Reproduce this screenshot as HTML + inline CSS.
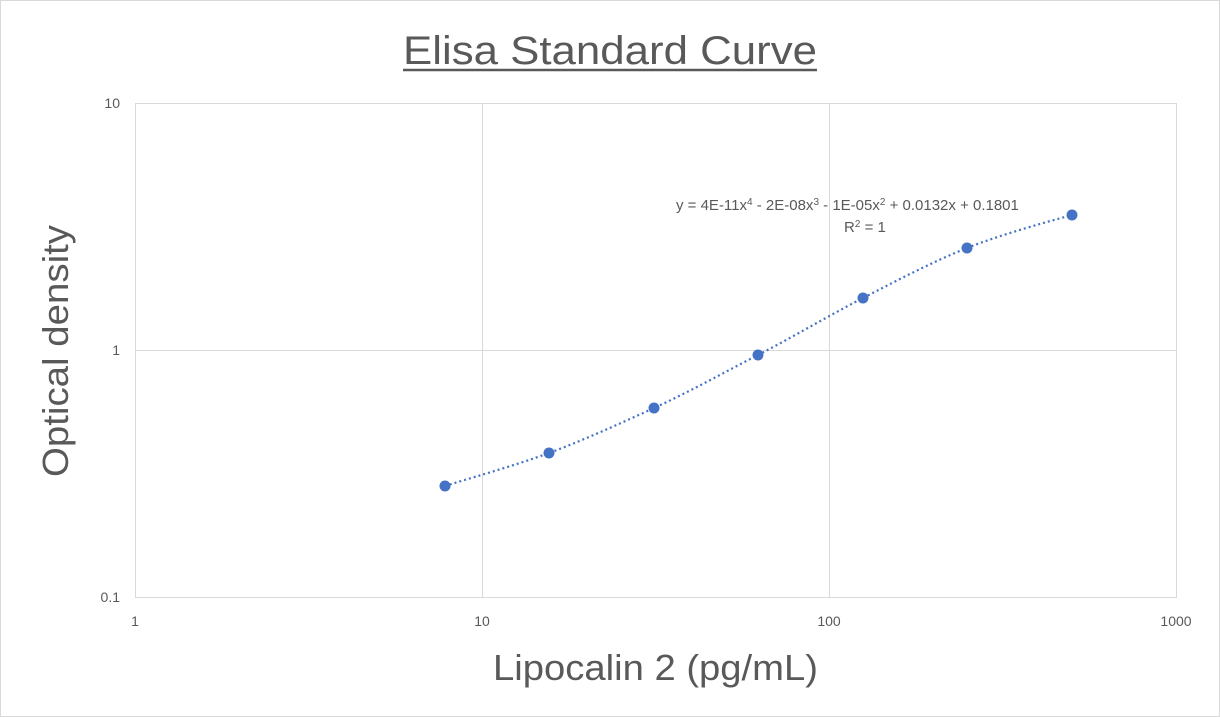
<!DOCTYPE html>
<html><head><style>
body{margin:0;background:#fff;}
svg{display:block;font-family:"Liberation Sans",sans-serif;}
</style></head><body>
<svg width="1220" height="717" viewBox="0 0 1220 717">
<rect x="0.5" y="0.5" width="1219" height="716" fill="#fff" stroke="#d9d9d9"/>
<text x="403" y="64" font-size="40" fill="#595959" textLength="414" lengthAdjust="spacingAndGlyphs">Elisa Standard Curve</text>
<line x1="403" y1="70" x2="817" y2="70" stroke="#595959" stroke-width="2.5"/>
<g stroke="#d9d9d9" stroke-width="1">
<rect x="135.5" y="103.5" width="1041" height="494" fill="none"/>
<line x1="482.5" y1="103" x2="482.5" y2="597"/>
<line x1="829.5" y1="103" x2="829.5" y2="597"/>
<line x1="135" y1="350.5" x2="1176" y2="350.5"/>
</g>
<g font-size="14" fill="#595959">
<text x="120" y="108" text-anchor="end">10</text>
<text x="120" y="355" text-anchor="end">1</text>
<text x="120" y="602" text-anchor="end">0.1</text>
<text x="135" y="626" text-anchor="middle">1</text>
<text x="482" y="626" text-anchor="middle">10</text>
<text x="829" y="626" text-anchor="middle">100</text>
<text x="1176" y="626" text-anchor="middle">1000</text>
</g>
<text x="493" y="680" font-size="36" fill="#595959" textLength="325" lengthAdjust="spacingAndGlyphs">Lipocalin 2 (pg/mL)</text>
<text transform="translate(68,477) rotate(-90)" font-size="36" fill="#595959" textLength="252" lengthAdjust="spacingAndGlyphs">Optical density</text>
<path d="M445,486 C462,480.5 514,466 549,453 C584,440 619,424 654,408 C689,392 723,373 758,355 C793,337 828,316 863,298 C898,280 932,262 967,248 C1002,234 1054,220 1072,215" fill="none" stroke="#4472c4" stroke-width="2.2" stroke-dasharray="2 3"/>
<g fill="#4472c4">
<circle cx="445" cy="486" r="5.5"/><circle cx="549" cy="453" r="5.5"/><circle cx="654" cy="408" r="5.5"/>
<circle cx="758" cy="355" r="5.5"/><circle cx="863" cy="298" r="5.5"/><circle cx="967" cy="248" r="5.5"/>
<circle cx="1072" cy="215" r="5.5"/>
</g>
<text x="676" y="210" font-size="15" fill="#595959">y = 4E-11x<tspan dy="-5" font-size="10">4</tspan><tspan dy="5"> - 2E-08x</tspan><tspan dy="-5" font-size="10">3</tspan><tspan dy="5"> - 1E-05x</tspan><tspan dy="-5" font-size="10">2</tspan><tspan dy="5"> + 0.0132x + 0.1801</tspan></text>
<text x="844" y="232" font-size="15" fill="#595959">R<tspan dy="-5" font-size="10">2</tspan><tspan dy="5"> = 1</tspan></text>
</svg>
</body></html>
